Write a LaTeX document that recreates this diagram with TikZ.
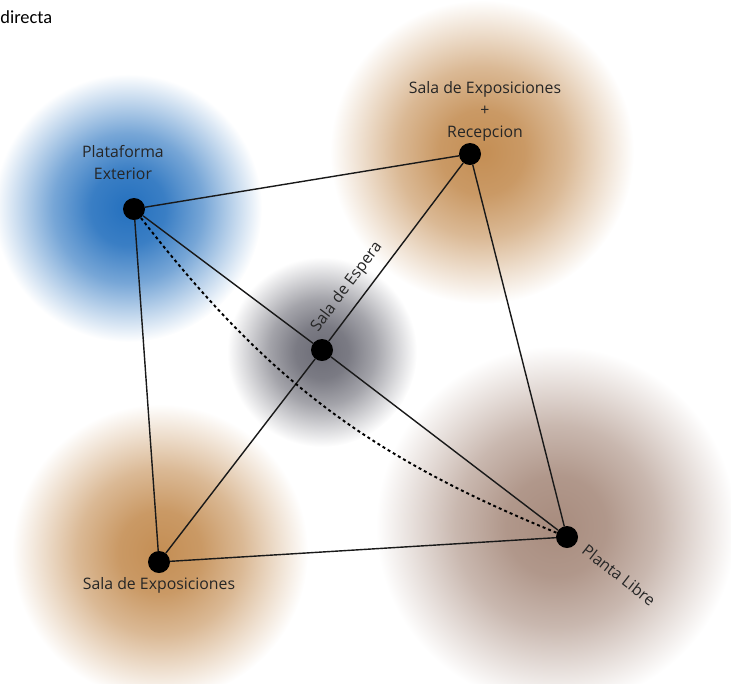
\documentclass[tikz,border=0pt]{standalone}
\usepackage{fontspec}
\setmainfont{Open Sans}
\newfontfamily\headfont{Carlito}
\usepackage{tikz}

\definecolor{platblue}{RGB}{36,112,190}
\definecolor{saltan}{RGB}{196,142,84}
\definecolor{esperagray}{RGB}{108,108,118}
\definecolor{plantabrown}{RGB}{168,140,126}
\colorlet{blobc}{platblue}
\pgfdeclareradialshading[blobc]{blob}{\pgfpoint{0bp}{0bp}}{%
  color(0bp)=(blobc); color(7bp)=(blobc!90!white); color(14bp)=(blobc!62!white);
  color(20bp)=(blobc!28!white); color(25bp)=(white); color(50bp)=(white)}

\begin{document}
\begin{tikzpicture}[x=0.2mm,y=-0.2mm,line cap=round,line join=round,
  dot/.style={circle,fill=black,inner sep=0pt,minimum size=4.4mm},
  edge/.style={line width=0.8pt,black!90},
  lbl/.style={inner sep=0pt,text=black!85,font=\fontsize{9}{12.5}\selectfont}]
  \useasboundingbox (0,0) rectangle (731,683);
  % clouds
  \colorlet{blobc}{platblue}
  \shade[shading=blob] (128,208) circle (134);
  \colorlet{blobc}{saltan}
  \shade[shading=blob] (482,152) circle (152);
  \shade[shading=blob] (160,552) circle (148);
  \colorlet{blobc}{esperagray}
  \shade[shading=blob] (322,352) circle (95);
  \colorlet{blobc}{plantabrown}
  \shade[shading=blob] (556,526) circle (180);
  % rooms
  \node[dot] (pe) at (134,209) {};
  \node[dot] (re) at (470,154) {};
  \node[dot] (se) at (322,350) {};
  \node[dot] (ex) at (159,562) {};
  \node[dot] (pl) at (567,537) {};
  \draw[edge] (pe) -- (re);
  \draw[edge] (pe) -- (se) -- (pl);
  \draw[edge] (re) -- (se) -- (ex);
  \draw[edge] (pe) -- (ex) -- (pl) -- (re);
  \draw[line width=1.1pt,dash pattern=on 1.7pt off 1.7pt,line cap=butt] (pe) to[bend right=15] (pl);
  \node[lbl,align=center] (plabel) at (123,163) {Plataforma\\Exterior};
  \node[lbl,align=center] (rlabel) at (485,111) {Sala de Exposiciones\\+\\Recepcion};
  \node[lbl,rotate=53] (slabel) at (347,287) {Sala de Espera};
  \node[lbl] (elabel) at (159,585) {Sala de Exposiciones};
  \node[lbl,rotate=-38] (llabel) at (619,575) {Planta Libre};
  \node[anchor=base west,inner sep=0pt,font=\headfont\fontsize{10.5}{12}\selectfont] (title) at (0,23) {directa};
\end{tikzpicture}
\end{document}
